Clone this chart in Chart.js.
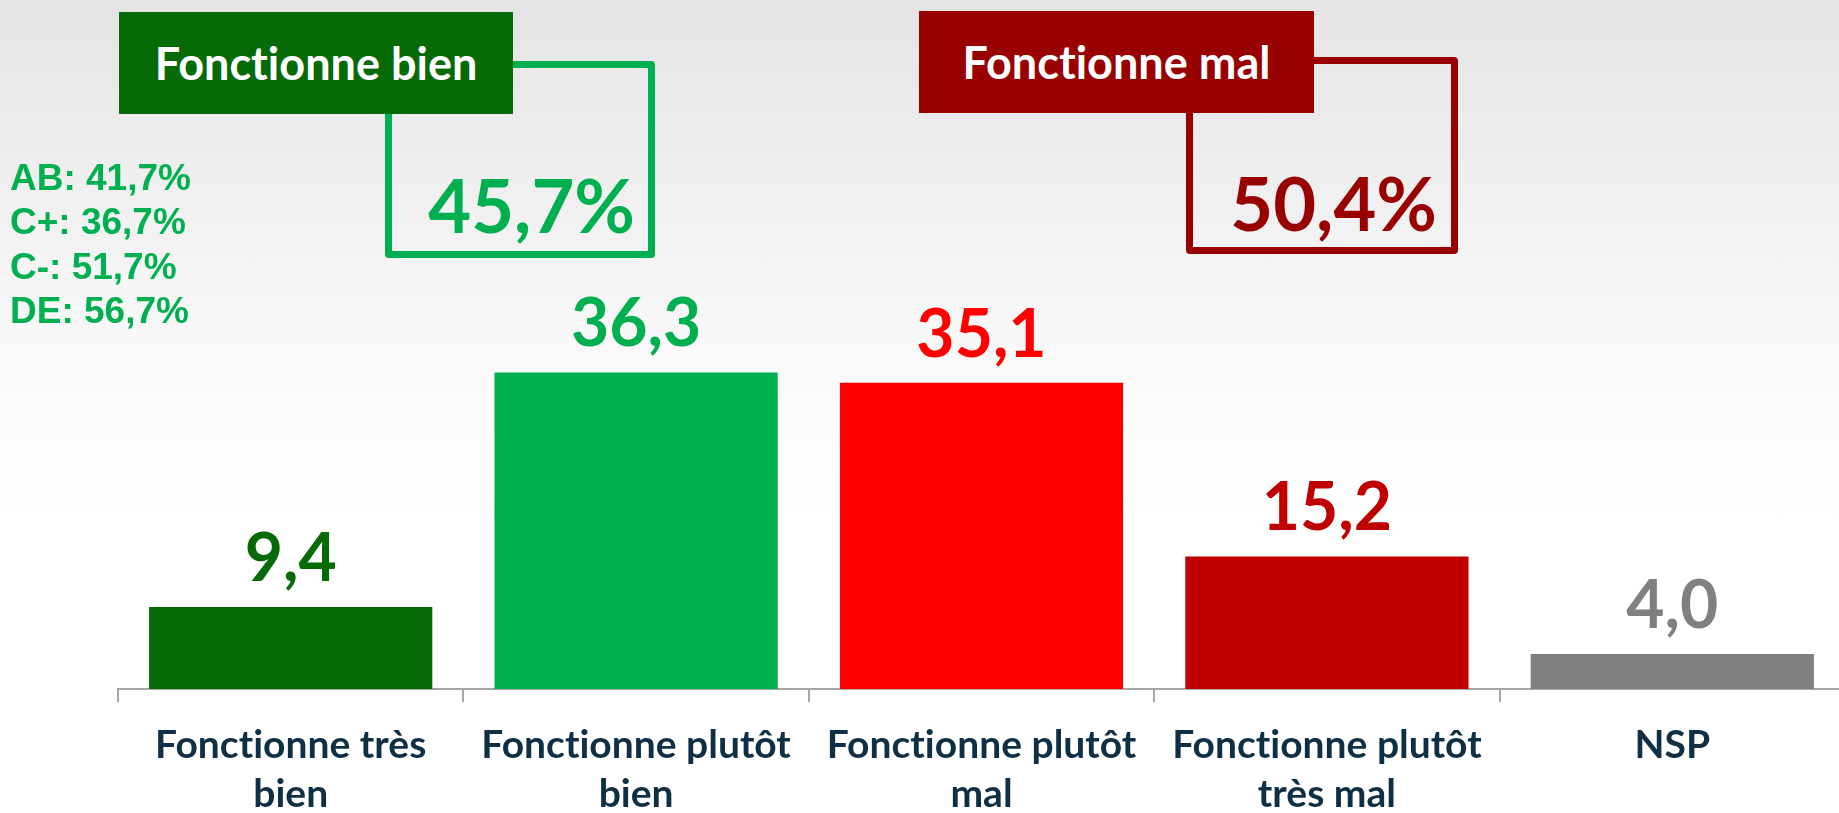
<!DOCTYPE html>
<html>
  <head>
    <meta charset="utf-8" />
    <title>Fonctionne bien / mal</title>
    <style>
        html, body {
            width: 100%;
            height: 100%;
            margin: 0;
            padding: 0;
            overflow: hidden;
        }
        body {
            background: linear-gradient(#e4e4e4 0px, #f6f6f6 300px, #fdfdfd 450px, #ffffff 520px);
            position: relative;
            font-variant-ligatures: none;
            font-feature-settings: "liga" 0, "clig" 0, "dlig" 0, "calt" 0;
        }
        #wrap {
            position: absolute;
            left: 0;
            top: 0;
            width: 1845px;
            height: 813px;
        }
        .tag {
            position: absolute;
            display: flex;
            align-items: center;
            justify-content: center;
            color: #fff;
            font: bold 45px Lato, sans-serif;
            letter-spacing: 0.01px;
            z-index: 3;
        }
        .frame {
            position: absolute;
            box-sizing: border-box;
            border: 7px solid;
            border-radius: 4px;
            z-index: 2;
        }
        .total {
            position: absolute;
            text-align: right;
            font: bold 74px Lato, sans-serif;
            line-height: 74px;
            z-index: 3;
        }
        #segments {
            position: absolute;
            left: 10px;
            top: 156px;
            color: #00b050;
            font: bold 37px "Liberation Sans", Arial, sans-serif;
            line-height: 44.3px;
            z-index: 3;
        }
    </style>
  </head>
  <body>
    <script src="https://cdn.jsdelivr.net/npm/chart.js@4.4.1/dist/chart.umd.min.js"></script>

    <div id="wrap">
      <canvas id="chart"></canvas>
    </div>

    <div class="frame" style="left:385px; top:61px; width:270px; height:197px; border-color:#00b050;"></div>
    <div class="tag" id="tag0" style="left:119px; top:12px; width:394px; height:102px; background:#066a06;"></div>
    <div class="total" id="total0" style="left:385px; width:250px; top:168px; color:#00b050;"></div>

    <div class="frame" style="left:1186px; top:57px; width:272px; height:197px; border-color:#990000;"></div>
    <div class="tag" id="tag1" style="left:919px; top:11px; width:395px; height:102px; background:#990000;"></div>
    <div class="total" id="total1" style="left:1187px; width:250px; top:166px; color:#990000;"></div>

    <div id="segments"></div>

    <script>
        // data
        const categories = [
          ["Fonctionne très", "bien"],
          ["Fonctionne plutôt", "bien"],
          ["Fonctionne plutôt", "mal"],
          ["Fonctionne plutôt", "très mal"],
          "NSP"
        ];
        const values = [9.4, 36.3, 35.1, 15.2, 4.0];
        const groupNames = ["Fonctionne bien", "Fonctionne mal"];
        const groupTotals = ["45,7%", "50,4%"];
        const segmentNames = ["AB", "C+", "C-", "DE"];
        const segmentValues = ["41,7%", "36,7%", "51,7%", "56,7%"];

        // styles
        const barColors = ["#066a06", "#00b050", "#ff0000", "#c00000", "#808080"];
        const labelColors = ["#066a06", "#00b050", "#ff0000", "#c00000", "#808080"];

        groupNames.forEach((g, i) => {
          document.getElementById("tag" + i).textContent = g;
          document.getElementById("total" + i).textContent = groupTotals[i];
        });
        document.getElementById("segments").innerHTML =
          segmentNames.map((s, i) => s + ": " + segmentValues[i]).join("<br>");

        // no "ti" ligature on the canvas text either
        const noLigatures = {
          id: "noLigatures",
          beforeDraw(chart) {
            chart.ctx.textRendering = "optimizeSpeed";
            chart.ctx.letterSpacing = "0.01px";
          }
        };

        const valueLabels = {
          id: "valueLabels",
          afterDatasetsDraw(chart) {
            const ctx = chart.ctx;
            const meta = chart.getDatasetMeta(0);
            ctx.save();
            ctx.font = "bold 66px Lato, sans-serif";
            ctx.textAlign = "center";
            ctx.textBaseline = "alphabetic";
            meta.data.forEach((bar, i) => {
              ctx.fillStyle = labelColors[i];
              ctx.fillText(values[i].toFixed(1).replace(".", ","), bar.x, bar.y - 26);
            });
            ctx.restore();
          }
        };

        const chart = new Chart("chart", {
          type: "bar",
          data: {
            labels: categories,
            datasets: [{
              data: values,
              backgroundColor: barColors,
              borderWidth: 0,
              barPercentage: 0.82,
              categoryPercentage: 1
            }]
          },
          options: {
            responsive: true,
            maintainAspectRatio: false,
            animation: false,
            layout: { padding: { left: 118, right: 0, top: 0, bottom: 0 } },
            plugins: {
              legend: { display: false },
              tooltip: { enabled: false }
            },
            scales: {
              y: {
                display: false,
                min: 0,
                max: 79
              },
              x: {
                afterFit: (scale) => { scale.height = 124; },
                border: { display: true, color: "#a6a6a6", width: 2 },
                grid: {
                  display: true,
                  drawOnChartArea: false,
                  drawTicks: true,
                  tickLength: 13,
                  color: "#a6a6a6",
                  lineWidth: 2,
                  offset: true
                },
                ticks: {
                  autoSkip: false,
                  maxRotation: 0,
                  padding: 18,
                  color: "#0e2f44",
                  font: { family: "Lato", weight: "bold", size: 39, lineHeight: 1.28 }
                }
              }
            }
          },
          plugins: [noLigatures, valueLabels]
        });
    </script>
  </body>
</html>
